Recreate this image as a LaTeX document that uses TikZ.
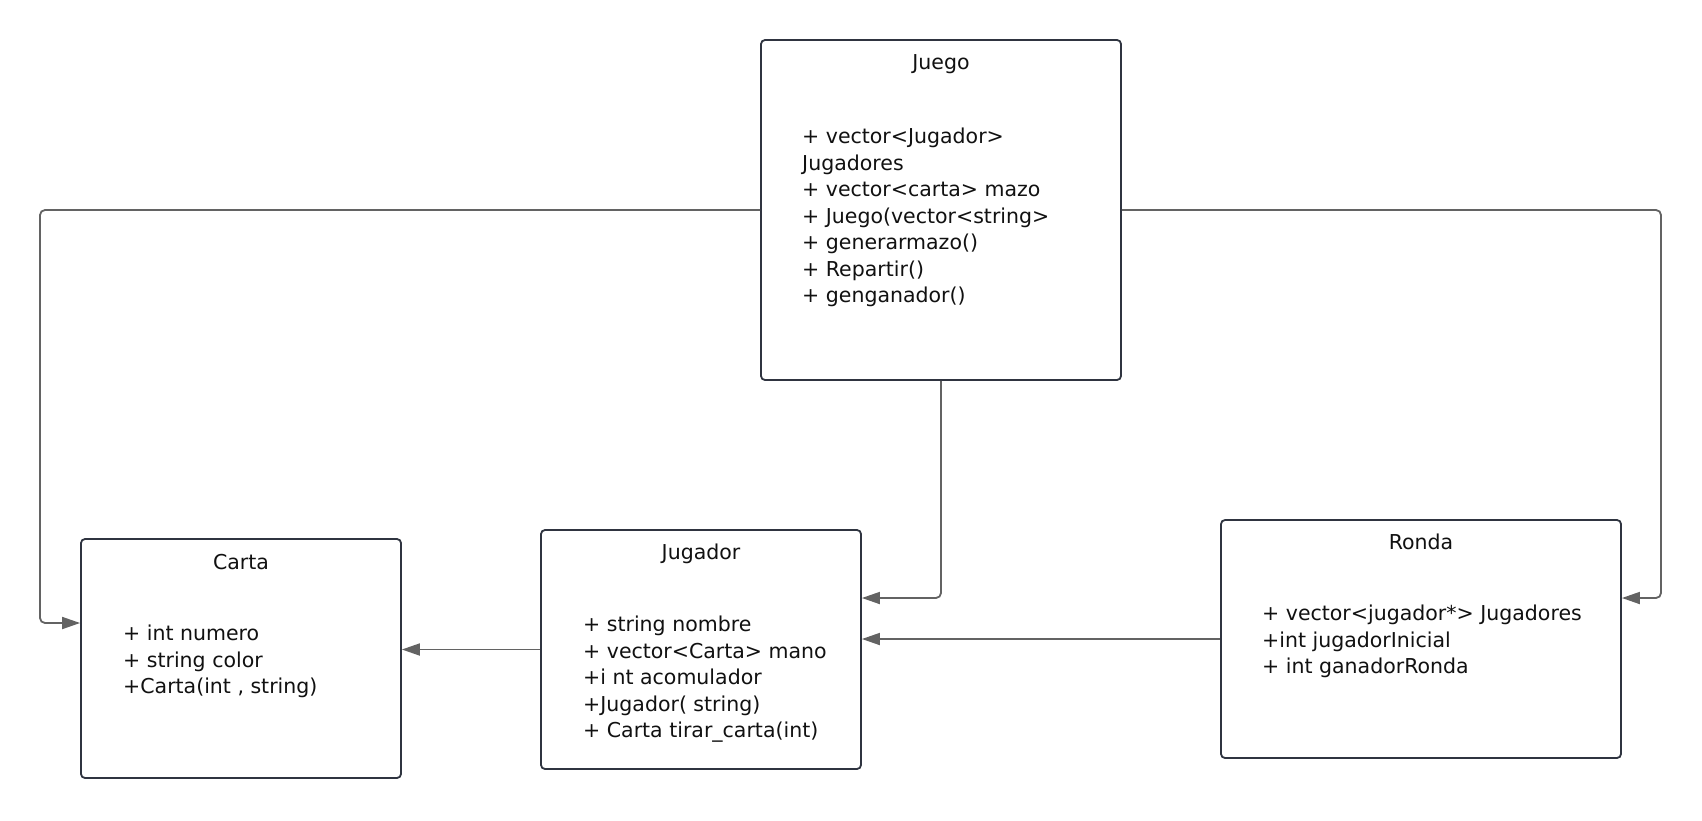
\documentclass[tikz,border=0pt]{standalone}
\usepackage{fontspec}
\setmainfont{DejaVu Sans}
\usetikzlibrary{arrows.meta}
\definecolor{boxc}{HTML}{2F3440}
\definecolor{linec}{HTML}{636363}
\definecolor{txt}{HTML}{111111}
\tikzset{
  cls/.style={draw=boxc, line width=1.8pt, rounded corners=4pt, rectangle, inner sep=0pt, fill=white},
  ttl/.style={anchor=base, inner sep=0pt, text=txt, font=\fontsize{20.5}{26.5}\selectfont},
  body/.style={anchor=north west, inner sep=0pt, align=left, text=txt, font=\fontsize{20.5}{26.5}\selectfont},
  conn/.style={draw=linec, line width=1.8pt, rounded corners=5pt, -{Triangle[length=18pt,width=12pt]}},
}
\begin{document}
\begin{tikzpicture}[x=1pt,y=-1pt]
\useasboundingbox (0,0) rectangle (1702,820);
\fill[white] (0,0) rectangle (1702,820);
% boxes
\node[cls, minimum width=360pt, minimum height=340pt] (juego) at (941,210) {};
\node[cls, minimum width=320pt, minimum height=239pt] (carta) at (241,658.5) {};
\node[cls, minimum width=320pt, minimum height=239pt] (jugador) at (701,649.5) {};
\node[cls, minimum width=400pt, minimum height=238pt] (ronda) at (1421,639) {};
% titles
\node[ttl] (tjuego) at (941,69.5) {Juego};
\node[ttl] (tcarta) at (241,569.5) {Carta};
\node[ttl] (tjugador) at (701,559.5) {Jugador};
\node[ttl] (tronda) at (1421,549.5) {Ronda};
% bodies (top = first baseline - strut height 18.55)
\node[body] (bjuego) at (802,125) {\strut+ vector<Jugador>\\Jugadores\\+ vector<carta> mazo\\+ Juego(vector<string>\\+ generarmazo()\\+ Repartir()\\+ genganador()};
\node[body] (bcarta) at (123,622) {\strut+ int numero\\+ string color\\+Carta(int , string)};
\node[body] (bjugador) at (583,613) {\strut+ string nombre\\+ vector<Carta> mano\\+i nt acomulador\\+Jugador( string)\\+ Carta tirar\_carta(int)};
\node[body] (bronda) at (1262,602) {\strut+ vector<jugador*> Jugadores\\+int jugadorInicial\\+ int ganadorRonda};
% connector points
\coordinate (lc) at (40,623);
\coordinate (rc) at (1661,598);
\coordinate (jin) at (861,598);
% connectors
\draw[conn] (juego.west) -| (lc) -- (carta.west |- lc);
\draw[conn] (juego.east) -| (rc) -- (ronda.east |- rc);
\draw[conn] (juego.south) |- (jugador.east |- jin);
\draw[conn] (ronda.west) -- (jugador.east |- ronda.west);
\draw[conn] (jugador.west) -- (carta.east |- jugador.west);
\end{tikzpicture}
\end{document}
